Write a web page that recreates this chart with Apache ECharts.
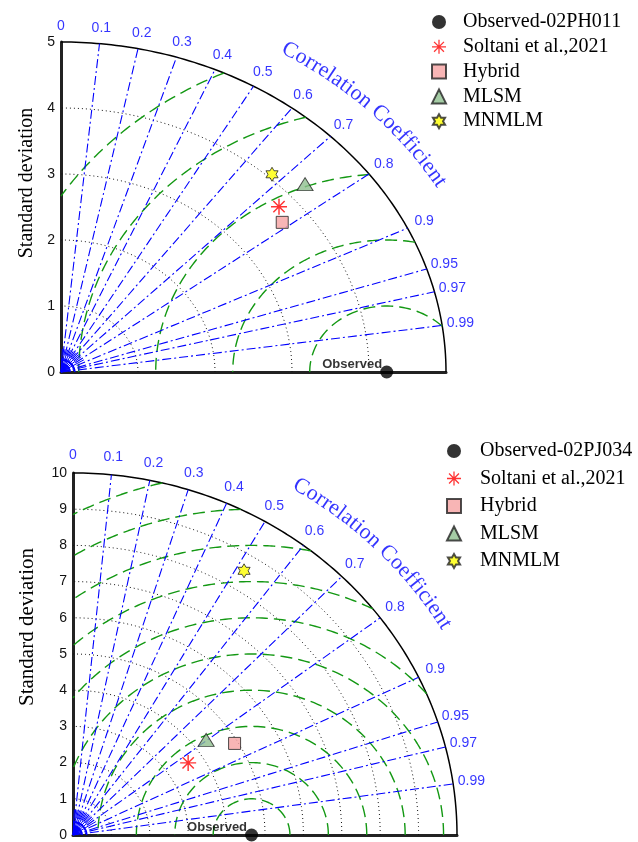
<!DOCTYPE html>
<html>
<head>
<meta charset="utf-8" />
<title>Taylor diagrams</title>
<script src="https://cdn.jsdelivr.net/npm/echarts@6/dist/echarts.min.js"></script>
<style>html,body{margin:0;padding:0;background:#fff}</style>
</head>
<body>
<div id="main" style="width:638px;height:842px"></div>
<script>
// values
var corrTicks = [0, 0.1, 0.2, 0.3, 0.4, 0.5, 0.6, 0.7, 0.8, 0.9, 0.95, 0.97, 0.99];
var modelNames = ['Soltani et al.,2021', 'Hybrid', 'MLSM', 'MNMLM'];

// station 02PH011 (top)
var obsNameA = 'Observed-02PH011';
var obsStdA = 4.23;
var stdA = [3.78, 3.66, 4.26, 4.06];
var corrA = [0.749, 0.785, 0.744, 0.675];
var stdRingsA = [1, 2, 3, 4];
var rmsRingsA = [1, 2, 3, 4, 5];

// station 02PJ034 (bottom)
var obsNameB = 'Observed-02PJ034';
var obsStdB = 4.65;
var stdB = [3.6, 4.91, 4.35, 8.55];
var corrB = [0.833, 0.857, 0.797, 0.521];
var stdRingsB = [1, 2, 3, 4, 5, 6, 7, 8, 9];
var rmsRingsB = [1, 2, 3, 4, 5, 6, 7, 8, 9, 10];

var BLUE = '#0000ff', GREEN = '#139813';
var asterisk = 'path://M-9,-100L9,-100L9,100L-9,100Z M-100,-9L100,-9L100,9L-100,9Z ' +
  'M-64.3,-77.1L77.1,64.3L64.3,77.1L-77.1,-64.3Z M77.1,-64.3L-64.3,77.1L-77.1,64.3L64.3,-77.1Z';
var hexagram = 'path://M0,-100L-28.9,-50L-86.6,-50L-57.7,0L-86.6,50L-28.9,50L0,100L28.9,50L86.6,50L57.7,0L86.6,-50L28.9,-50Z';
var modelStyle = [
  {symbol: asterisk, size: 16, item: {color: '#ff0000'}},
  {symbol: 'rect', size: 12, item: {color: '#f6a3a3', borderColor: '#222', borderWidth: 1}},
  {symbol: 'triangle', size: [16, 13], item: {color: '#8fbf8f', borderColor: '#222', borderWidth: 1}},
  {symbol: hexagram, size: 14, item: {color: '#ffff00', borderColor: '#222', borderWidth: 1}}
];

var panels = [
  {grid: {left: 61, top: 42, width: 385, height: 330}, R: 5, obs: obsStdA, obsName: obsNameA,
   std: stdA, corr: corrA, stdRings: stdRingsA, rms: rmsRingsA, textR: 1.14, titleY: 183, titleSize: 20,
   legend: {left: 426, top: 7, gap: 4.8, pad: 12}},
  {grid: {left: 73, top: 473, width: 384, height: 365}, R: 10, obs: obsStdB, obsName: obsNameB,
   std: stdB, corr: corrB, stdRings: stdRingsB, rms: rmsRingsB, textR: 1.13, titleY: 627, titleSize: 21,
   legend: {left: 441, top: 436, gap: 7.5, pad: 14}}
];

function arc(cx, r, t0, t1) {
  var pts = [], n = 120;
  for (var i = 0; i <= n; i++) {
    var t = t0 + (t1 - t0) * i / n;
    pts.push([cx + r * Math.cos(t), r * Math.sin(t)]);
  }
  return pts;
}
function lineSeries(g, data, color, width, type) {
  return {type: 'line', xAxisIndex: g, yAxisIndex: g, data: data, symbol: 'none', silent: true,
    clip: false, lineStyle: {color: color, width: width, type: type}, z: 2};
}

var ctx = document.createElement('canvas').getContext('2d');
var grids = [], xAxes = [], yAxes = [], series = [], legends = [], graphics = [];

panels.forEach(function (p, g) {
  var R = p.R;
  grids.push(p.grid);
  xAxes.push({type: 'value', gridIndex: g, min: 0, max: R, interval: 1, axisLabel: {show: false},
    axisTick: {show: false}, splitLine: {show: false}, axisLine: {lineStyle: {color: '#222', width: 3}}});
  yAxes.push({type: 'value', gridIndex: g, min: 0, max: R, interval: 1, axisTick: {show: false},
    splitLine: {show: false}, axisLine: {lineStyle: {color: '#222', width: 3}},
    axisLabel: {color: '#111', fontSize: 14, fontFamily: 'Liberation Sans', margin: 6}});

  // outer boundary
  series.push(lineSeries(g, arc(0, R, 0, Math.PI / 2), '#000', 1.5, 'solid'));
  // standard deviation rings
  p.stdRings.forEach(function (r) {
    series.push(lineSeries(g, arc(0, r, 0, Math.PI / 2), '#111', 1, [1, 3]));
  });
  // centred RMS difference rings around the observed point
  p.rms.forEach(function (r) {
    var c1 = (R * R - p.obs * p.obs - r * r) / (2 * p.obs * r);
    var t1 = c1 >= 1 ? 0 : (c1 <= -1 ? Math.PI : Math.acos(c1));
    var t2 = r <= p.obs ? Math.PI : Math.acos(-p.obs / r);
    if (t1 < t2) series.push(lineSeries(g, arc(p.obs, r, t1, t2), GREEN, 1.4, [12, 6]));
  });
  // correlation rays
  corrTicks.forEach(function (c) {
    if (c === 0) return;
    var s = Math.sqrt(1 - c * c);
    series.push(lineSeries(g, [[0, 0], [R * c, R * s]], BLUE, 1.1, [9, 3, 2, 3]));
  });
  // dense fan and small arcs near the origin
  for (var k = 0; k < 18; k++) {
    var c = 0.05 + k * 0.05;
    if (Math.abs(c * 10 - Math.round(c * 10)) < 1e-6) continue;
    series.push(lineSeries(g, [[0, 0], [0.07 * R * c, 0.07 * R * Math.sqrt(1 - c * c)]], BLUE, 1, 'solid'));
  }
  [0.012, 0.024, 0.036].forEach(function (f) {
    series.push(lineSeries(g, arc(0, f * R, 0, Math.PI / 2), BLUE, 1.5, 'solid'));
  });

  // correlation tick labels
  series.push({type: 'scatter', xAxisIndex: g, yAxisIndex: g, symbolSize: 1, silent: true, clip: false,
    itemStyle: {color: 'rgba(0,0,0,0)'},
    label: {show: true, position: 'inside', formatter: '{b}', color: BLUE, fontSize: 14, fontFamily: 'Liberation Sans'},
    data: corrTicks.map(function (c) {
      var r = 1.048 * R;
      return {name: String(c), value: [r * c, r * Math.sqrt(1 - c * c)]};
    })});

  // curved "Correlation Coefficient" title
  var sx = p.grid.width / R, sy = p.grid.height / R, rr = p.textR * R;
  ctx.font = '22px "Liberation Serif"';
  var N = 900, th = [], sl = [0];
  for (var i = 0; i <= N; i++) th.push(Math.PI / 2 * (1 - i / N));
  for (i = 1; i <= N; i++) {
    var dx = rr * sx * (Math.cos(th[i]) - Math.cos(th[i - 1]));
    var dy = rr * sy * (Math.sin(th[i]) - Math.sin(th[i - 1]));
    sl.push(sl[i - 1] + Math.sqrt(dx * dx + dy * dy));
  }
  var text = 'Correlation Coefficient', stretch = 1.04;
  var widths = text.split('').map(function (ch) { return ctx.measureText(ch).width * stretch; });
  var W = widths.reduce(function (a, b) { return a + b; }, 0);
  var start = sl[N / 2] - W / 2, cum = 0, chars = [];
  text.split('').forEach(function (ch, j) {
    var s = start + cum + widths[j] / 2;
    cum += widths[j];
    if (ch === ' ') return;
    var m = 1;
    while (m < N && sl[m] < s) m++;
    var f = (s - sl[m - 1]) / (sl[m] - sl[m - 1]);
    var t = th[m - 1] + (th[m] - th[m - 1]) * f;
    var a = Math.atan2(Math.cos(t) * sy, Math.sin(t) * sx);
    chars.push({name: ch, value: [rr * Math.cos(t), rr * Math.sin(t)], label: {rotate: -a * 180 / Math.PI}});
  });
  series.push({type: 'scatter', xAxisIndex: g, yAxisIndex: g, symbolSize: 1, silent: true, clip: false,
    itemStyle: {color: 'rgba(0,0,0,0)'},
    label: {show: true, position: 'inside', formatter: '{b}', color: BLUE, fontSize: 22, fontFamily: 'Liberation Serif'},
    data: chars});

  // observed point
  series.push({type: 'scatter', name: p.obsName, xAxisIndex: g, yAxisIndex: g, clip: false, z: 5,
    symbol: 'circle', symbolSize: 13, itemStyle: {color: '#000'},
    label: {show: true, formatter: 'Observed', position: 'left', offset: [7, -8], color: '#000',
      fontSize: 13, fontWeight: 'bold', fontFamily: 'Liberation Sans'},
    data: [[p.obs, 0]]});
  // model points
  modelNames.forEach(function (name, j) {
    var ms = modelStyle[j], c = p.corr[j], s = p.std[j];
    series.push({type: 'scatter', name: name, xAxisIndex: g, yAxisIndex: g, clip: false, z: 5,
      symbol: ms.symbol, symbolSize: ms.size, symbolKeepAspect: true, itemStyle: ms.item,
      data: [[s * c, s * Math.sqrt(1 - c * c)]]});
  });

  var icons = ['circle', asterisk, 'rect', 'triangle', hexagram];
  legends.push({orient: 'vertical', left: p.legend.left, top: p.legend.top, itemGap: p.legend.gap,
    itemWidth: 14, itemHeight: 14, selectedMode: false,
    textStyle: {fontFamily: 'Liberation Serif', fontSize: 20, color: '#000',
      padding: [0, 0, 0, p.legend.pad]},
    data: [p.obsName].concat(modelNames).map(function (n, j) { return {name: n, icon: icons[j]}; })});

  graphics.push({type: 'text', x: 27, y: p.titleY, rotation: Math.PI / 2,
    style: {text: 'Standard deviation', font: p.titleSize + 'px "Liberation Serif"', fill: '#000',
      align: 'center', verticalAlign: 'middle', textAlign: 'center', textVerticalAlign: 'middle'}});
});

var chart = echarts.init(document.getElementById('main'));
chart.setOption({
  animation: false,
  grid: grids,
  xAxis: xAxes,
  yAxis: yAxes,
  legend: legends,
  graphic: graphics,
  series: series
});
</script>
</body>
</html>
